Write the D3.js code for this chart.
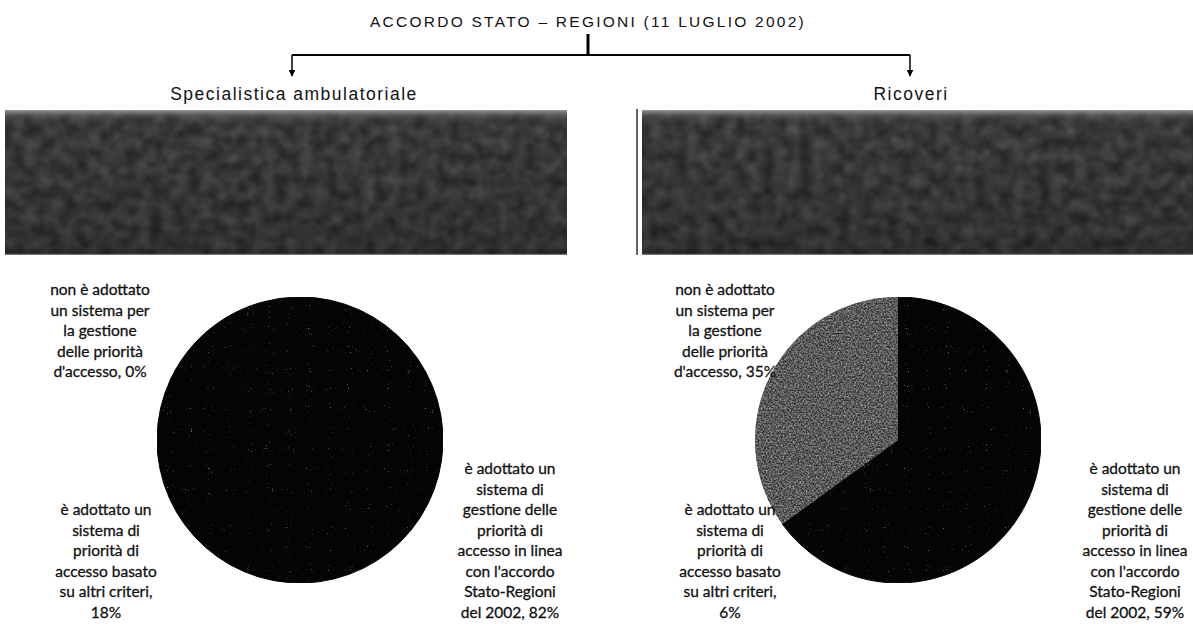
<!DOCTYPE html>
<html><head><meta charset="utf-8">
<script src="https://cdn.jsdelivr.net/npm/d3@7"></script>
<style>
html,body{margin:0;padding:0;background:#fff;}
svg{display:block;}
filter{color-interpolation-filters:sRGB;}
</style></head>
<body>
<svg id="chart" width="1193" height="624"></svg>
<script>
// ---- data ----
const title = "ACCORDO STATO – REGIONI (11 LUGLIO 2002)";
const panels = ["Specialistica ambulatoriale", "Ricoveri"];
const categories = [
  "è adottato un sistema di gestione delle priorità di accesso in linea con l'accordo Stato-Regioni del 2002",
  "è adottato un sistema di priorità di accesso basato su altri criteri",
  "non è adottato un sistema per la gestione delle priorità d'accesso"
];
const specialisticaValues = [82, 18, 0];
const ricoveriValues = [59, 6, 35];
const labelLines = [
  ["è adottato un", "sistema di", "gestione delle", "priorità di", "accesso in linea", "con l'accordo", "Stato-Regioni", "del 2002,"],
  ["è adottato un", "sistema di", "priorità di", "accesso basato", "su altri criteri,", ""],
  ["non è adottato", "un sistema per", "la gestione", "delle priorità", "d'accesso,"]
];

// ---- layout ----
const svg = d3.select("#chart");
const defs = svg.append("defs");

function mkFilter(id) {
  return defs.append("filter").attr("id", id).attr("filterUnits","objectBoundingBox")
    .attr("x",0).attr("y",0).attr("width",1).attr("height",1)
    .attr("color-interpolation-filters","sRGB");
}
// sparse speckle for the dark pie
const fSpeck = mkFilter("speck");
fSpeck.append("feTurbulence").attr("type","fractalNoise").attr("baseFrequency",0.95).attr("numOctaves",1).attr("seed",4).attr("result","n");
fSpeck.append("feColorMatrix").attr("in","n").attr("type","matrix")
  .attr("values","0 0 0 0 0.5  0 0 0 0 0.5  0 0 0 0 0.5  0 0 0 9 -6.4").attr("result","dots");
fSpeck.append("feComposite").attr("in","dots").attr("in2","SourceGraphic").attr("operator","in").attr("result","d2");
const m1 = fSpeck.append("feMerge"); m1.append("feMergeNode").attr("in","SourceGraphic"); m1.append("feMergeNode").attr("in","d2");

// grain for light slice
const fGrain = mkFilter("grain");
fGrain.append("feTurbulence").attr("type","fractalNoise").attr("baseFrequency",0.6).attr("numOctaves",2).attr("seed",7).attr("result","n");
fGrain.append("feColorMatrix").attr("in","n").attr("type","matrix")
  .attr("values","1.6 0 0 0 -0.5  1.6 0 0 0 -0.5  1.6 0 0 0 -0.5  0 0 0 0 0.55").attr("result","g");
fGrain.append("feComposite").attr("in","g").attr("in2","SourceGraphic").attr("operator","in").attr("result","g2");
const m2 = fGrain.append("feMerge"); m2.append("feMergeNode").attr("in","SourceGraphic"); m2.append("feMergeNode").attr("in","g2");

// blotchy blurred noise for the grey boxes
const fBox = mkFilter("box");
fBox.append("feTurbulence").attr("type","fractalNoise").attr("baseFrequency",0.08).attr("numOctaves",3).attr("seed",11).attr("result","n");
fBox.append("feColorMatrix").attr("in","n").attr("type","matrix")
  .attr("values","1 0 0 0 -0.15  1 0 0 0 -0.15  1 0 0 0 -0.15  0 0 0 0 0.25").attr("result","g");
fBox.append("feGaussianBlur").attr("in","g").attr("stdDeviation",1.8).attr("result","gb");
fBox.append("feComposite").attr("in","gb").attr("in2","SourceGraphic").attr("operator","in").attr("result","g2");
const m3 = fBox.append("feMerge"); m3.append("feMergeNode").attr("in","SourceGraphic"); m3.append("feMergeNode").attr("in","g2");

const gradTop = defs.append("linearGradient").attr("id","edge").attr("x1",0).attr("y1",0).attr("x2",0).attr("y2",1);
gradTop.append("stop").attr("offset","0").attr("stop-color","#a8a8a8").attr("stop-opacity",0.85);
gradTop.append("stop").attr("offset","0.05").attr("stop-color","#666").attr("stop-opacity",0.3);
gradTop.append("stop").attr("offset","0.12").attr("stop-color","#222").attr("stop-opacity",0.0);
gradTop.append("stop").attr("offset","0.95").attr("stop-color","#000").attr("stop-opacity",0.15);
gradTop.append("stop").attr("offset","0.985").attr("stop-color","#000").attr("stop-opacity",0.3);
gradTop.append("stop").attr("offset","1").attr("stop-color","#bbb").attr("stop-opacity",0.8);

// arrowhead
defs.append("marker").attr("id","arrow").attr("viewBox","0 0 10 10").attr("refX",9).attr("refY",5)
  .attr("markerWidth",4.5).attr("markerHeight",4.5).attr("orient","auto")
  .append("path").attr("d","M0,0 L10,5 L0,10 z").attr("fill","#000");

// title and bracket
const titleX = 588;
svg.append("text").attr("x",titleX).attr("y",27).attr("text-anchor","middle")
  .attr("font-family","Liberation Sans, Arial, sans-serif").attr("font-size",15.5).attr("letter-spacing",2.25)
  .attr("fill","#111").text(title);

const panelX = d3.scalePoint().domain(panels).range([292, 910]);
svg.append("line").attr("x1",titleX).attr("x2",titleX).attr("y1",34).attr("y2",55).attr("stroke","#000").attr("stroke-width",3);
svg.append("line").attr("x1",panelX(panels[0])).attr("x2",panelX(panels[1])).attr("y1",55).attr("y2",55).attr("stroke","#000").attr("stroke-width",2);
panels.forEach(p => {
  svg.append("line").attr("x1",panelX(p)).attr("x2",panelX(p)).attr("y1",55).attr("y2",76)
    .attr("stroke","#000").attr("stroke-width",1.5).attr("marker-end","url(#arrow)");
});

// panel configs (layout only)
const panelLayout = [
  {name: panels[0], values: specialisticaValues, subX: 294, boxX: 5, boxW: 562, cx: 300,
   labelPos: [[510, 469], [106, 510], [100, 290]]},
  {name: panels[1], values: ricoveriValues, subX: 911, boxX: 642, boxW: 551, cx: 898, sep: 637,
   labelPos: [[1135, 469], [730, 510], [725, 290]]}
];
const cy = 440, r = 143;
const sliceColor = d3.scaleOrdinal().domain(categories).range(["#040404", "#050505", "#6a6a6a"]);
const pie = d3.pie().sort(null).value(d => d.v);
const arc = d3.arc().innerRadius(0).outerRadius(r);

panelLayout.forEach(pl => {
  svg.append("text").attr("x",pl.subX).attr("y",100).attr("text-anchor","middle")
    .attr("font-family","Liberation Sans, Arial, sans-serif").attr("font-size",17.5).attr("letter-spacing",1.5)
    .attr("fill","#111").text(pl.name);

  svg.append("rect").attr("x",pl.boxX).attr("y",110).attr("width",pl.boxW).attr("height",145)
    .attr("fill","#2e2e2e").attr("filter","url(#box)");
  svg.append("rect").attr("x",pl.boxX).attr("y",110).attr("width",pl.boxW).attr("height",145)
    .attr("fill","url(#edge)");
  if (pl.sep) {
    svg.append("line").attr("x1",pl.sep).attr("x2",pl.sep).attr("y1",109).attr("y2",255)
      .attr("stroke","#111").attr("stroke-width",1.3);
  }

  const data = categories.map((c,i) => ({c, v: pl.values[i], i}));
  const g = svg.append("g").attr("transform",`translate(${pl.cx},${cy})`).attr("filter","url(#speck)");
  g.selectAll("path").data(pie(data)).join("path")
    .attr("d", arc)
    .attr("fill", d => sliceColor(d.data.c))
    .attr("stroke", d => d.data.i === 2 ? "none" : sliceColor(d.data.c))
    .attr("stroke-width", 1)
    .attr("stroke-linejoin","round")
    .attr("filter", d => d.data.i === 2 ? "url(#grain)" : null);

  data.forEach((d,i) => {
    const lines = labelLines[i].slice();
    const last = lines.length - 1;
    lines[last] = (lines[last] ? lines[last] + " " : "") + d.v + "%";
    const t = svg.append("text").attr("text-anchor","middle")
      .attr("font-family","Lato, 'Open Sans', sans-serif").attr("font-size",15.5)
      .attr("fill","#111").attr("stroke","#111").attr("stroke-width",0.3);
    lines.forEach((ln,k) => {
      t.append("tspan").attr("x",pl.labelPos[i][0]).attr("y",pl.labelPos[i][1] + k*20.5 + 5).text(ln);
    });
  });
});
</script>
</body></html>
